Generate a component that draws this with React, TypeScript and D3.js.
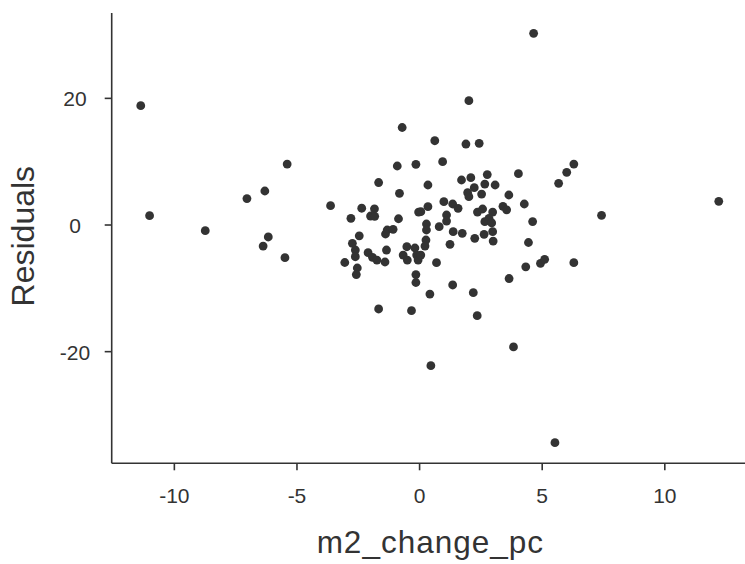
import React from "react";
import * as d3 from "d3";

const m2ChangePc: number[] = [
  -11.37, -11.01, -8.74, -7.04, -6.31, -6.17, -6.38, -5.49, -5.40, -3.63,
  -3.05, -2.80, -2.74, -2.62, -2.62, -2.54, -2.58, -2.46, -2.36, -1.84,
  -2.00, -1.83, -2.10, -1.92, -1.74, -1.41, -1.35, -1.32, -1.08, -1.39,
  -0.86, -1.67, -0.82, -0.91, -0.15, -0.71, -0.67, -0.52, -0.50, -0.19,
  -0.12, -0.06, -0.15, -0.15, -0.04, 0.34, 0.34, 0.28, 0.28, 0.26,
  0.22, 0.05, 0.05, -1.67, -0.33, 0.42, 0.69, 0.46, 0.94, 1.71,
  2.09, 2.76, 4.03, 2.66, 3.08, 2.23, 1.96, 2.01, 2.53, 3.64,
  4.27, 3.40, 3.55, 0.99, 1.35, 1.57, 2.36, 2.57, 2.98, 2.83,
  2.66, 2.94, 1.10, 1.10, 0.80, 1.37, 1.74, 2.63, 2.98, 2.25,
  3.00, 1.24, 4.33, 3.65, 4.44, 4.61, 1.89, 2.43, 2.01, 0.62,
  4.65, 6.29, 6.00, 5.67, 4.93, 5.10, 6.29, 7.42, 12.20, 1.35,
  2.19, 2.35, 3.83, 5.52,
];

const residuals: number[] = [
  18.84, 1.47, -0.90, 4.18, 5.37, -1.89, -3.32, -5.16, 9.63, 3.05,
  -5.92, 1.06, -2.89, -3.95, -5.01, -6.79, -7.82, -1.71, 2.65, 2.56,
  1.42, 1.37, -4.37, -5.10, -5.53, -5.84, -3.95, -0.79, -0.68, -1.42,
  0.99, 6.71, 5.01, 9.32, 9.58, 15.40, -4.74, -3.43, -5.53, -3.63,
  -4.74, -5.53, -7.82, -9.08, 2.05, 2.89, 6.32, 0.16, -0.79, -2.37,
  -3.32, 2.10, -4.74, -13.26, -13.53, -10.90, -5.95, -22.22, 10.00, 7.11,
  7.47, 7.97, 8.10, 6.47, 6.32, 5.89, 5.10, 4.47, 4.89, 4.74,
  3.32, 2.95, 2.40, 3.68, 3.32, 2.64, 2.05, 2.53, 2.05, 1.06,
  0.52, 0.32, 1.58, 0.63, -0.27, -1.06, -1.31, -1.47, -1.06, -2.10,
  -2.53, -3.05, -6.60, -8.45, -2.76, 0.55, 12.79, 12.90, 19.63, 13.31,
  30.27, 9.63, 8.32, 6.58, -6.05, -5.42, -5.95, 1.53, 3.74, -9.47,
  -10.69, -14.32, -19.26, -34.37,
];

const xTicks: number[] = [-10, -5, 0, 5, 10];
const yTicks: number[] = [-20, 0, 20];
const xTitle = "m2_change_pc";
const yTitle = "Residuals";

const W = 745;
const H = 564;
const left = 111.7;
const right = 745;
const top = 13;
const bottom = 463.3;
const ink = "#333333";
const font = "'Liberation Sans', Arial, Helvetica, sans-serif";

export default function App() {
  const x = d3.scaleLinear().domain([-12.555, 13.27]).range([left, right]);
  const y = d3.scaleLinear().domain([-37.63, 33.48]).range([bottom, top]);
  const pts = m2ChangePc.map((v, i) => ({ x: v, y: residuals[i] }));

  return (
    <svg
      width={W}
      height={H}
      style={{ position: "absolute", left: 0, top: 0, background: "#fff" }}
    >
      <rect x={0} y={0} width={W} height={H} fill="#fff" />
      <line x1={left} x2={left} y1={top} y2={bottom} stroke={ink} strokeWidth={1.6} />
      <line x1={left} x2={right} y1={bottom} y2={bottom} stroke={ink} strokeWidth={1.6} />
      {xTicks.map((t) => (
        <g key={"x" + t}>
          <line x1={x(t)} x2={x(t)} y1={bottom} y2={bottom + 7} stroke={ink} strokeWidth={1.6} />
          <text
            x={x(t)}
            y={503}
            textAnchor="middle"
            fontFamily={font}
            fontSize={21}
            fill={ink}
          >
            {t}
          </text>
        </g>
      ))}
      {yTicks.map((t) => (
        <g key={"y" + t}>
          <line x1={left - 7} x2={left} y1={y(t)} y2={y(t)} stroke={ink} strokeWidth={1.6} />
          <text
            x={75}
            y={y(t) + 8}
            textAnchor="middle"
            fontFamily={font}
            fontSize={21}
            fill={ink}
          >
            {t}
          </text>
        </g>
      ))}
      <text
        x={(left + right) / 2 + 2}
        y={553}
        textAnchor="middle"
        fontFamily={font}
        fontSize={31.5}
        letterSpacing={1}
        fill={ink}
      >
        {xTitle}
      </text>
      <text
        transform={`translate(33.5, ${(top + bottom) / 2 - 2}) rotate(-90)`}
        textAnchor="middle"
        fontFamily={font}
        fontSize={32}
        fill={ink}
      >
        {yTitle}
      </text>
      {pts.map((p, i) => (
        <circle key={i} cx={x(p.x)} cy={y(p.y)} r={4.4} fill={ink} />
      ))}
    </svg>
  );
}
